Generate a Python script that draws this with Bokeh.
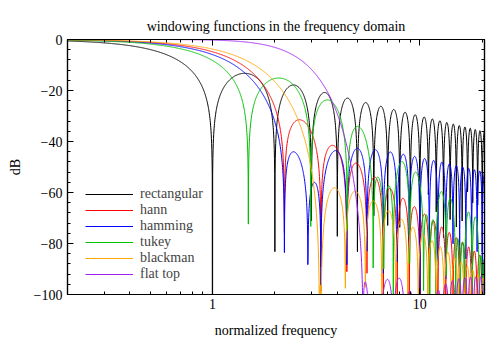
import numpy as np
from bokeh.plotting import figure
from bokeh.models import FixedTicker, LinearAxis, LogAxis, Legend, LegendItem
from bokeh.embed import file_html
from bokeh.resources import INLINE

# ---------------- data ----------------
title_text = "windowing functions in the frequency domain"
x_label = "normalized frequency"
y_label = "dB"

window_names = ["rectangular", "hann", "hamming", "tukey", "blackman", "flat top"]
window_colors = ["#000000", "#ff0000", "#0000ff", "#00c000", "#ffa500", "#a020f0"]

# cosine-sum window coefficients a0, a1, a2, ...
rect_coeffs = [1.0]
hann_coeffs = [0.5, 0.5]
hamming_coeffs = [0.54, 0.46]
blackman_coeffs = [0.42, 0.5, 0.08]
flattop_coeffs = [0.21557895, 0.41663158, 0.277263158, 0.083578947, 0.006947368]
tukey_alpha = 0.5
# window lengths relative to the rectangular one (read from the null positions)
window_lengths = [1.0, 0.9, 0.9, 0.895, 0.915, 0.94]

freq_min, freq_max = 0.2, 20.5
points_per_decade = 1000
db_min, db_max = -100, 0

x_tick_values = [1, 10]
x_tick_labels = ["1", "10"]
x_minor_ticks = [0.3, 0.4, 0.5, 0.6, 0.7, 0.8, 0.9, 2, 3, 4, 5, 6, 7, 8, 9, 20]
y_tick_values = [0, -20, -40, -60, -80, -100]
y_tick_labels = ["0", "\u221220", "\u221240", "\u221260", "\u221280", "\u2212100"]
y_minor_ticks = [v for v in range(-96, 0, 4) if v % 20 != 0]

# ---------------- spectra ----------------
k0 = int(np.floor(np.log10(freq_min) * points_per_decade))
k1 = int(np.ceil(np.log10(freq_max) * points_per_decade))
freq = 10.0 ** (np.arange(k0, k1 + 1) / points_per_decade)


def cosine_sum_response(coeffs, length, f):
    u = length * f
    w = coeffs[0] * np.sinc(u)
    for k, a in enumerate(coeffs[1:], start=1):
        w = w + a / 2.0 * (np.sinc(u - k) + np.sinc(u + k))
    return w / coeffs[0]


def tukey_response(alpha, length, f):
    a = length * (1 - alpha / 2.0)
    b = length * alpha / 2.0
    den = 1 - (2 * b * f) ** 2
    safe = np.where(np.abs(den) < 1e-9, 1.0, den)
    taper = np.where(np.abs(den) < 1e-9, np.pi / 4, np.cos(np.pi * b * f) / safe)
    return np.sinc(a * f) * taper


def to_db(w):
    return 20 * np.log10(np.maximum(np.abs(w), 1e-10))


responses = [
    cosine_sum_response(rect_coeffs, window_lengths[0], freq),
    cosine_sum_response(hann_coeffs, window_lengths[1], freq),
    cosine_sum_response(hamming_coeffs, window_lengths[2], freq),
    tukey_response(tukey_alpha, window_lengths[3], freq),
    cosine_sum_response(blackman_coeffs, window_lengths[4], freq),
    cosine_sum_response(flattop_coeffs, window_lengths[5], freq),
]

# ---------------- figure ----------------
FONT = "Liberation Serif"
FS = "14px"

p = figure(width=500, height=349, x_axis_type="log",
           x_range=(freq_min, freq_max), y_range=(db_min, db_max),
           output_backend="svg", toolbar_location=None,
           min_border_left=67, min_border_right=16,
           min_border_top=39, min_border_bottom=55)
p.xgrid.visible = False
p.ygrid.visible = False
p.outline_line_color = "black"
p.outline_line_width = 1.2
p.background_fill_color = "white"
p.border_fill_color = "white"

p.title.text = title_text
p.title.align = "center"
p.title.text_font = FONT
p.title.text_font_size = FS
p.title.text_font_style = "normal"
p.title.text_color = "black"
p.title.standoff = 11

items = []
for name, color, resp in zip(window_names, window_colors, responses):
    r = p.line(freq, to_db(resp), line_color=color, line_width=1)
    items.append(LegendItem(label=name, renderers=[r]))

xt = FixedTicker(ticks=x_tick_values, minor_ticks=x_minor_ticks)
yt = FixedTicker(ticks=y_tick_values, minor_ticks=y_minor_ticks)


def style_axis(ax, show_labels):
    ax.axis_line_color = "black"
    ax.axis_line_width = 1.2
    ax.major_tick_in = 6
    ax.major_tick_out = 0
    ax.minor_tick_in = 3
    ax.minor_tick_out = 0
    ax.major_tick_line_color = "black"
    ax.minor_tick_line_color = "black"
    ax.major_label_text_font = FONT
    ax.major_label_text_font_size = FS if show_labels else "1px"
    ax.major_label_text_color = "black"
    if not show_labels:
        ax.major_label_text_alpha = 0
    ax.axis_label_text_font = FONT
    ax.axis_label_text_font_size = FS
    ax.axis_label_text_font_style = "normal"
    ax.axis_label_text_color = "black"


xa = p.xaxis[0]
xa.ticker = xt
xa.major_label_overrides = {v: s for v, s in zip(x_tick_values, x_tick_labels)}
xa.axis_label = x_label
style_axis(xa, True)
xa.major_label_standoff = 4
xa.axis_label_standoff = 11

ya = p.yaxis[0]
ya.ticker = yt
ya.major_label_overrides = {v: s for v, s in zip(y_tick_values, y_tick_labels)}
ya.axis_label = y_label
style_axis(ya, True)
ya.major_label_standoff = 5
ya.axis_label_standoff = 8

top_axis = LogAxis(ticker=xt)
style_axis(top_axis, False)
top_axis.major_label_standoff = 0
p.add_layout(top_axis, "above")

right_axis = LinearAxis(ticker=yt)
style_axis(right_axis, False)
right_axis.major_label_standoff = 0
p.add_layout(right_axis, "right")

legend = Legend(items=items, location=(18, 12), margin=0, padding=0,
                spacing=0, glyph_width=48, glyph_height=16, label_height=16,
                label_standoff=7, label_text_font=FONT, label_text_font_size=FS,
                border_line_alpha=0, background_fill_alpha=0)
p.add_layout(legend)

open("out.html", "w").write(file_html(p, INLINE))
